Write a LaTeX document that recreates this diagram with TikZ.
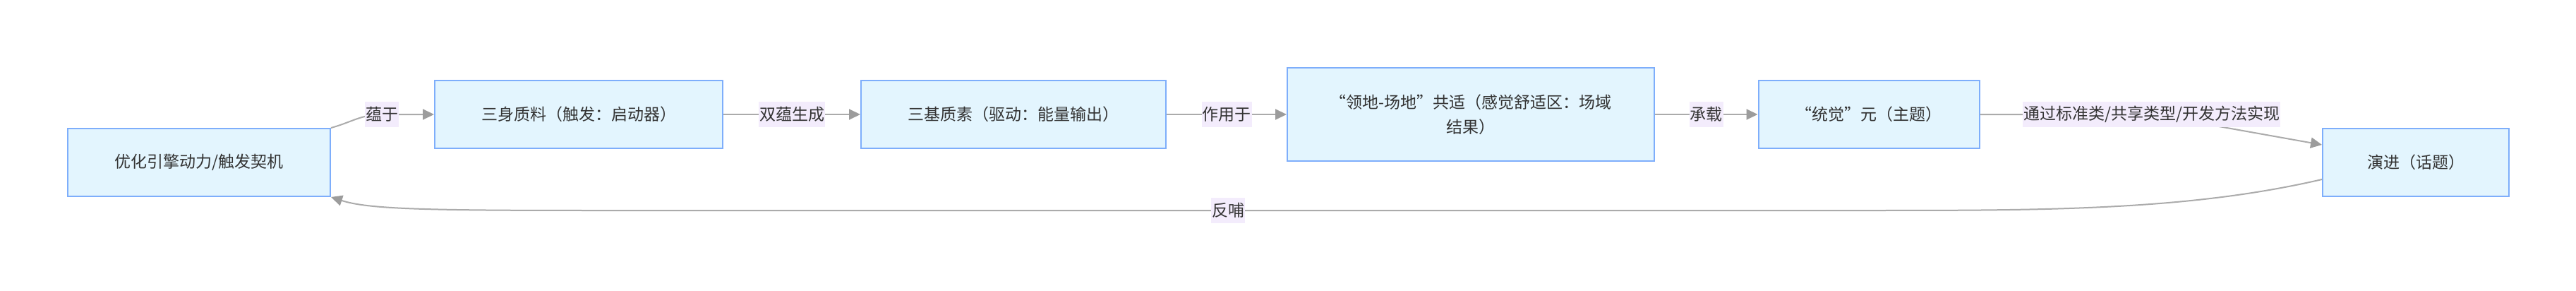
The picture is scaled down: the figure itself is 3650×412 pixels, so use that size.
\documentclass[tikz,border=0pt]{standalone}
\usepackage{fontspec}
\setmainfont{Noto Sans CJK SC}
\usetikzlibrary{arrows.meta}
\definecolor{boxfill}{HTML}{E3F5FE}
\definecolor{boxline}{HTML}{7EAEFB}
\definecolor{lblfill}{HTML}{F3ECFC}
\definecolor{edgeline}{HTML}{ABABAB}
\definecolor{tipgray}{HTML}{9C9C9C}
\definecolor{txt}{HTML}{333333}

\begin{document}
\begin{tikzpicture}[x=1pt, y=-1pt,
    font=\fontsize{23}{35}\selectfont, text=txt,
    stage/.style={draw=boxline, fill=boxfill, line width=2pt,
        minimum height=96pt, inner sep=0pt, align=center},
    lbl/.style={fill=lblfill, inner xsep=1pt, inner ysep=0pt, minimum height=36pt},
    edge/.style={draw=edgeline, line width=2pt,
        -{Triangle[length=16pt,width=15pt,color=tipgray]}}]
    \useasboundingbox (0,0) rectangle (3650,412);
    \node[stage, minimum width=372pt] (motive) at (282,230) {优化引擎动力/触发契机};
    \node[stage, minimum width=408pt] (sanshen) at (820,162) {三身质料（触发：启动器）};
    \node[stage, minimum width=432pt] (sanji) at (1436,162) {三基质素（驱动：能量输出）};
    \node[stage, minimum width=520pt, minimum height=132pt] (lingdi) at (2084,162)
        {“领地-场地”共适（感觉舒适区：场域\\结果）};
    \node[stage, minimum width=313pt] (tongjue) at (2648,162) {“统觉”元（主题）};
    \node[stage, minimum width=264pt] (yanjin) at (3423,230) {演进（话题）};
    \coordinate (fbR) at (2640,298);
    \coordinate (fbL) at (840,298);
    \draw[edge] (motive.north east) to[out=15,in=180] ([xshift=-74pt]sanshen.west)
        node[lbl] {蕴于} -- (sanshen.west);
    \draw[edge] (sanshen.east) -- node[lbl] {双蕴生成} (sanji.west);
    \draw[edge] (sanji.east) -- node[lbl] {作用于} (lingdi.west);
    \draw[edge] (lingdi.east) -- node[lbl] {承载} (tongjue.west);
    \draw[edge] (tongjue.east) -- ++(243,0) node[lbl] {通过标准类/共享类型/开发方法实现}
        -- ([yshift=25pt]yanjin.west);
    \draw[edge] ([yshift=-24pt]yanjin.west) .. controls +(-190,44) and +(260,0) .. (fbR)
        -- node[lbl] {反哺} (fbL) .. controls +(-240,0) and +(52,17) .. (motive.south east);
\end{tikzpicture}
\end{document}
